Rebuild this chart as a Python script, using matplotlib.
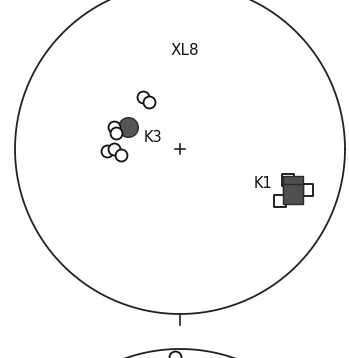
###########################
# AMS stereonet: site XL8 #
###########################
# importing libraries
import numpy as np
import matplotlib.pyplot as plt

# marker positions, projected (unit circle, north up)
k3_x = [-0.224, -0.188, -0.400, -0.388, -0.442, -0.400, -0.358]
k3_y = [0.315, 0.285, 0.133, 0.097, -0.012, 0.000, -0.036]
k3_mean_x = [-0.315]
k3_mean_y = [0.133]

k1_x = [0.655, 0.770, 0.606]
k1_y = [-0.188, -0.248, -0.315]
k1_mean_x = [0.685, 0.685]
k1_mean_y = [-0.224, -0.273]

# next net (cut off at the bottom)
next_x = [-0.03]
next_y = [-1.261]

labels = ['K3', 'K1']
label_x = [-0.165, 0.503]
label_y = [0.067, -0.212]

##############
# the figure #
##############
fig = plt.figure(figsize=(3.49, 3.58), dpi=100)
ax = fig.add_axes([0, 0, 1, 1])
ax.set_xlim(-1.0909, 1.0242)
ax.set_ylim(-1.2667, 0.903)
ax.set_aspect('equal')
ax.axis('off')

# primitive circles
t = np.linspace(0, 2 * np.pi, 400)
ax.plot(np.cos(t), np.sin(t), color='#222222', lw=1.3)
ax.plot(np.cos(t), np.sin(t) - 2.212, color='#222222', lw=1.3)

# centre cross and south tick
ax.plot([-0.032, 0.032], [0, 0], color='#222222', lw=1.2)
ax.plot([0, 0], [-0.032, 0.032], color='#222222', lw=1.2)
ax.plot([0, 0], [-1.0, -1.067], color='#222222', lw=1.2)

# K1 (squares)
ax.scatter(k1_x, k1_y, marker='s', s=70, facecolor='white',
           edgecolor='#111111', linewidth=1.3, zorder=3)
ax.scatter(k1_mean_x, k1_mean_y, marker='s', s=200, facecolor='#505050',
           edgecolor='#2a2a2a', linewidth=1.0, zorder=4)

# K3 (circles)
ax.scatter(k3_x, k3_y, marker='o', s=74, facecolor='white',
           edgecolor='#111111', linewidth=1.3, zorder=3)
ax.scatter(k3_mean_x, k3_mean_y, marker='o', s=200, facecolor='#555555',
           edgecolor='#2a2a2a', linewidth=1.0, zorder=2)

ax.scatter(next_x, next_y, marker='o', s=74, facecolor='white',
           edgecolor='#111111', linewidth=1.3, zorder=3)

# text
for lab, x, y in zip(labels, label_x, label_y):
    ax.text(x, y, lab, fontsize=10.5, ha='center', va='center', color='#111111')
ax.text(0.03, 0.594, 'XL8', fontsize=11, ha='center', va='center', color='#111111')

plt.savefig('out.png', dpi=100)
